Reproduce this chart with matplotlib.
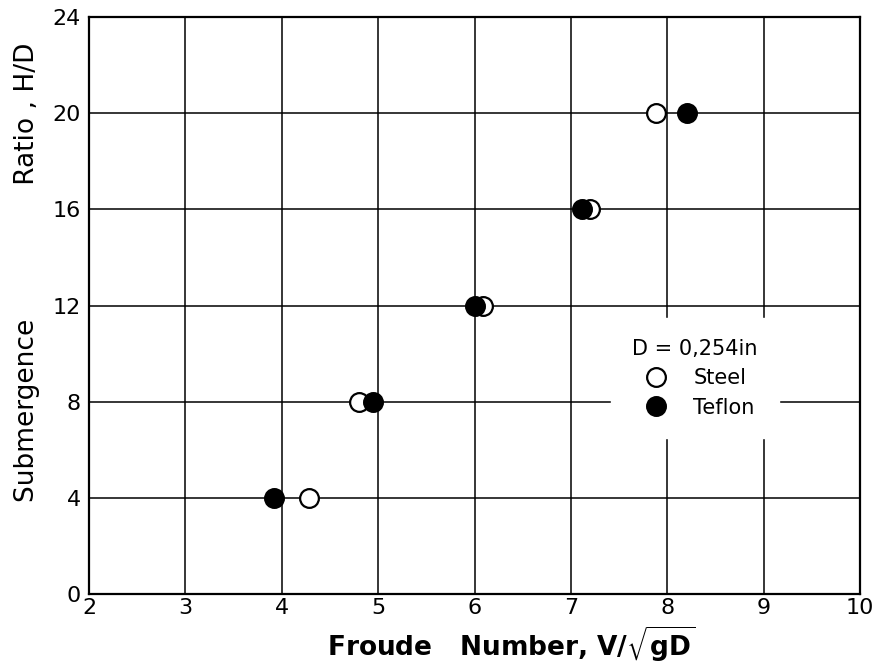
import matplotlib.pyplot as plt
from matplotlib.lines import Line2D

# 값
submergence = [4, 8, 12, 16, 20]
steel_froude = [4.28, 4.80, 6.09, 7.20, 7.88]
teflon_froude = [3.92, 4.95, 6.01, 7.12, 8.21]
x_ticks = [2, 3, 4, 5, 6, 7, 8, 9, 10]
y_ticks = [0, 4, 8, 12, 16, 20, 24]

plt.rcParams['font.family'] = ['DejaVu Sans']
plt.rcParams['mathtext.fontset'] = 'dejavusans'

fig = plt.figure(figsize=(8.77, 6.66), dpi=100)
ax = fig.add_axes([89 / 877, 72 / 666, 771 / 877, 577 / 666])

ax.set_xlim(2, 10)
ax.set_ylim(0, 24)
ax.set_xticks(x_ticks)
ax.set_yticks(y_ticks)
ax.grid(True, color='black', linewidth=1.1)
ax.set_axisbelow(True)
for s in ax.spines.values():
    s.set_linewidth(1.6)
ax.tick_params(length=0, labelsize=16)
ax.tick_params(axis='x', pad=3)
ax.tick_params(axis='y', pad=6)

ax.plot(steel_froude, submergence, 'o', ms=13.5, mfc='white', mec='black', mew=1.6, zorder=3)
ax.plot(teflon_froude, submergence, 'o', ms=13.5, mfc='black', mec='black', mew=1.6, zorder=4)

ax.set_xlabel(r'Froude   Number, V/$\sqrt{\mathbf{gD}}$', fontsize=19, fontweight='bold', va='center')
ax.xaxis.set_label_coords(0.547, -0.087)
ax.set_ylabel('Submergence' + ' ' * 16 + 'Ratio , H/D', fontsize=19, va='center')
ax.yaxis.set_label_coords(-0.08, 0.558)

handles = [
    Line2D([], [], ls='none', marker='o', ms=13.5, mfc='white', mec='black', mew=1.6),
    Line2D([], [], ls='none', marker='o', ms=13.5, mfc='black', mec='black', mew=1.6),
]
leg = ax.legend(handles, ['Steel', 'Teflon'], title='D = 0,254in', loc='center',
                bbox_to_anchor=(0.786, 0.374), fontsize=15, title_fontsize=15,
                frameon=True, fancybox=False, framealpha=1, edgecolor='white',
                facecolor='white', borderpad=1.0, handletextpad=0.8,
                labelspacing=0.45, borderaxespad=0)
leg.set_zorder(5)

fig.savefig('out.png', dpi=100)
